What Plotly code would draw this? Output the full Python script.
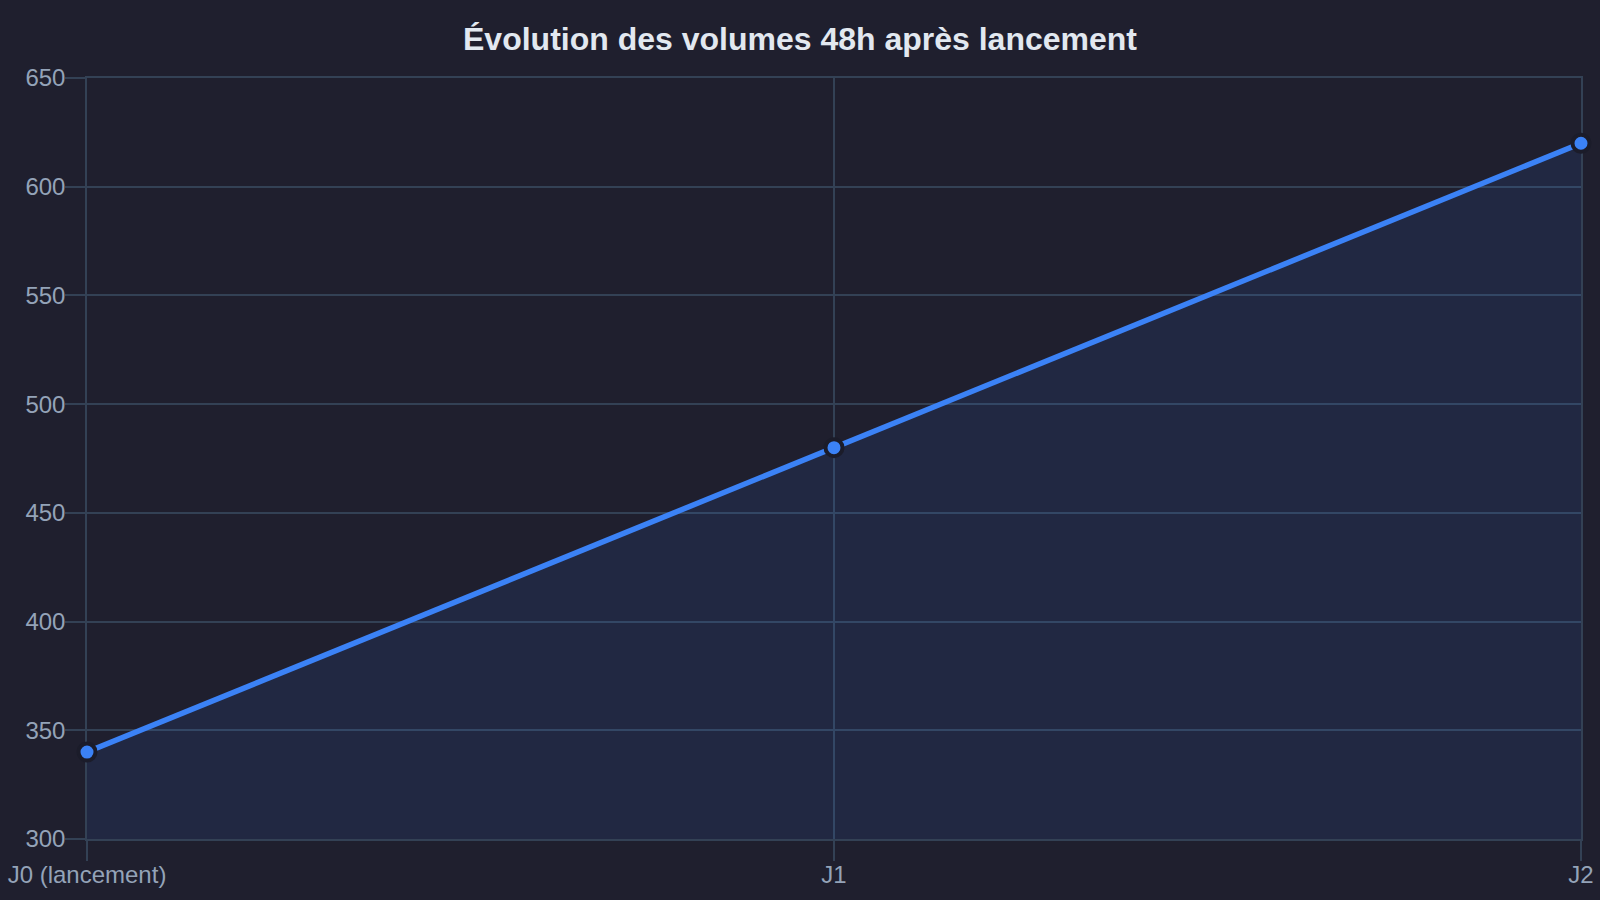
import plotly.graph_objects as go

categories = ["J0 (lancement)", "J1", "J2"]
volumes = [340, 480, 620]
y_ticks = [300, 350, 400, 450, 500, 550, 600, 650]

BG = "#1f1f2e"
GRID = "#334155"
LINE = "#3b82f6"
TXT = "#94a3b8"

fig = go.Figure()
fig.add_trace(go.Scatter(
    x=categories, y=volumes, mode="lines+markers",
    line=dict(color=LINE, width=5.5),
    marker=dict(size=17, color=LINE, line=dict(color="#1b1c2a", width=4)),
    fill="tozeroy", fillcolor="rgba(59,130,246,0.1)",
    cliponaxis=False,
    showlegend=False, hoverinfo="x+y",
))

axis_common = dict(
    showgrid=True, gridcolor=GRID, gridwidth=1.5,
    ticks="outside", ticklen=20, tickcolor=GRID, tickwidth=1.5,
    zeroline=False, showline=True, linecolor=GRID, linewidth=1.5, mirror=True,
    tickfont=dict(size=24, color=TXT), automargin=False, layer="below traces",
)

fig.update_layout(
    width=1600, height=900,
    paper_bgcolor=BG, plot_bgcolor=BG,
    margin=dict(l=87, r=19, t=78, b=61),
    title=dict(text="<b>Évolution des volumes 48h après lancement</b>",
               x=0.5, xanchor="center", y=0.957, yanchor="middle",
               font=dict(family="Liberation Sans, Arial, sans-serif", size=32, color="#e2e8f0")),
    font=dict(family="Liberation Sans, Arial, sans-serif", size=24, color=TXT),
    xaxis=dict(type="category", range=[0, 2], ticklabelstandoff=-7, **axis_common),
    yaxis=dict(range=[300, 650], tickvals=y_ticks, ticklabelstandoff=-5, **axis_common),
)

fig.write_html(
    "out.html",
    config={"displayModeBar": False},
    post_script="document.body.style.margin='0';document.body.style.background='#1f1f2e';",
)
